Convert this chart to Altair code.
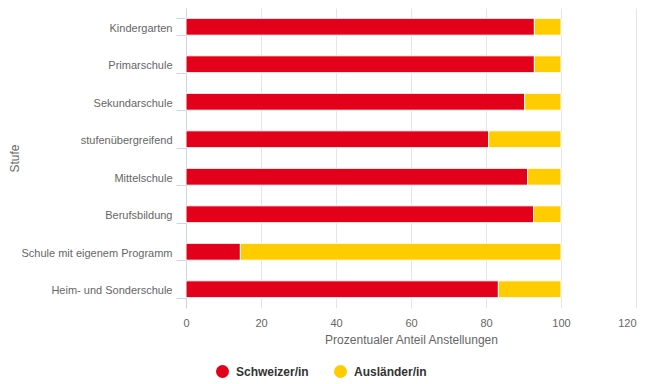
import altair as alt
import pandas as pd

stufen = ["Kindergarten", "Primarschule", "Sekundarschule", "stufenübergreifend",
          "Mittelschule", "Berufsbildung", "Schule mit eigenem Programm",
          "Heim- und Sonderschule"]
schweizer = [92.9, 92.9, 90.3, 80.7, 91.1, 92.7, 14.5, 83.3]
auslaender = [round(100 - v, 1) for v in schweizer]
gruppen = ["Schweizer/in", "Ausländer/in"]
farben = ["#E2001A", "#FFCC00"]

rows = []
for s, a, b in zip(stufen, schweizer, auslaender):
    rows.append({"Stufe": s, "Gruppe": gruppen[0], "Anteil": a, "ord": 0})
    rows.append({"Stufe": s, "Gruppe": gruppen[1], "Anteil": b, "ord": 1})
df = pd.DataFrame(rows)

FONT = "Liberation Sans"

chart = alt.Chart(df).mark_bar(stroke="white", strokeWidth=1).encode(
    y=alt.Y("Stufe:N", sort=stufen,
            scale=alt.Scale(paddingInner=0.55, paddingOuter=0.275),
            axis=alt.Axis(title="Stufe", grid=False, domainColor="#ccd6eb",
                          tickColor="#ccd6eb", tickSize=10, tickBand="extent",
                          labelPadding=4, labelFontSize=11, labelColor="#666666",
                          labelFont=FONT, labelOffset=1.5, titleFont=FONT, titleFontSize=12,
                          titleFontWeight="normal", titleColor="#666666",
                          titleX=-172, titleY=150, titleAngle=270,
                          titleBaseline="middle", titleAlign="center")),
    x=alt.X("Anteil:Q", stack="zero",
            scale=alt.Scale(domain=[0, 120], nice=False),
            axis=alt.Axis(title="Prozentualer Anteil Anstellungen",
                          values=[0, 20, 40, 60, 80, 100, 120],
                          domain=False, ticks=False, grid=True,
                          gridColor="#e6e6e6", labelPadding=9, labelFlush=False,
                          labelAlign={"expr": "datum.value == 120 ? 'right' : 'center'"},
                          labelFontSize=11, labelColor="#666666", labelFont=FONT,
                          titleFont=FONT, titleFontSize=12, titleFontWeight="normal",
                          titleColor="#666666", titlePadding=6)),
    color=alt.Color("Gruppe:N",
                    scale=alt.Scale(domain=gruppen, range=farben),
                    legend=alt.Legend(title=None, orient="none", direction="horizontal",
                                      legendX=30, legendY=357,
                                      symbolType="circle", symbolSize=169,
                                      symbolStrokeWidth=0, symbolOpacity=1,
                                      labelFont=FONT, labelFontSize=12,
                                      labelFontWeight="bold", labelColor="#333333",
                                      labelOffset=7, columnPadding=25)),
    order=alt.Order("ord:Q", sort="ascending"),
    tooltip=["Stufe", "Gruppe", "Anteil"],
).properties(
    width=450, height=300,
    autosize=alt.AutoSizeParams(type="none"),
    padding={"left": 178, "top": 0, "right": 7, "bottom": 76},
).configure_view(stroke=None)

chart.save("out.html", embed_options={"renderer": "svg", "actions": False})
